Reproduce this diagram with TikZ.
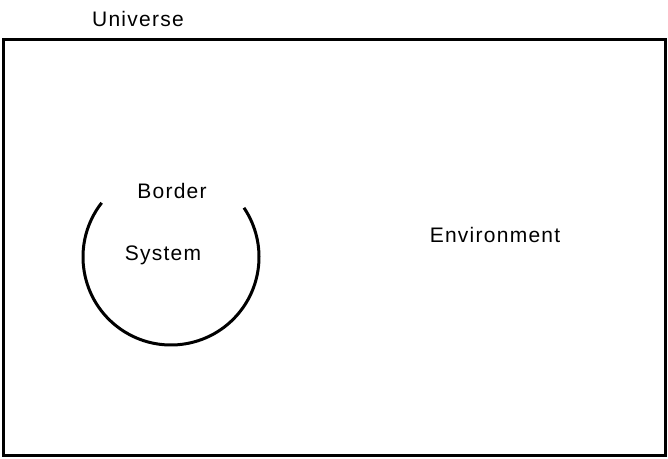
\documentclass[tikz,border=0pt]{standalone}
\usepackage{fontspec}
\setmainfont{Liberation Sans}[LetterSpace=6]
\begin{document}
\begin{tikzpicture}[x=1pt,y=1pt,
  lbl/.style={inner sep=0pt,anchor=base,font=\fontsize{21}{24}\selectfont}]
 \useasboundingbox (0,0) rectangle (668,458);
 % universe box
 \draw[line width=3.5pt](3.5,2.5) rectangle (665.5,418.5);
 \node[lbl] (universe) at (138,431) {Universe};
 % system with open border
 \draw[line width=3pt](171,201) ++(142:88) arc[start angle=142,end angle=394,radius=88];
 \node[lbl] (border) at (172,259) {Border};
 \node[lbl] (system) at (163,198) {System};
 \node[lbl] (environment) at (495,215) {Environment};
\end{tikzpicture}
\end{document}
